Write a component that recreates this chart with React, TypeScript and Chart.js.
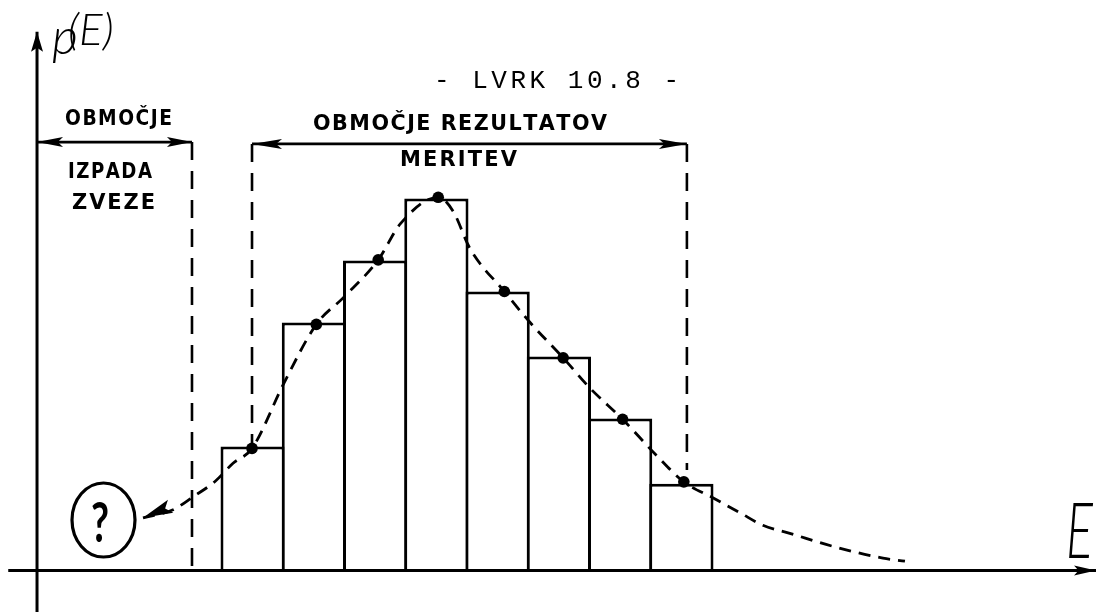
import React, { useEffect, useRef } from "react";
import { Chart, registerables } from "chart.js";

Chart.register(...registerables);

// ---- data ----
// histogram classes of measured E, unit width
const binEdges = [0, 1, 2, 3, 4, 5, 6, 7, 8];
const binCenters = [0.5, 1.5, 2.5, 3.5, 4.5, 5.5, 6.5, 7.5];
const binHeights = [2.0, 4.0, 5.0, 6.0, 4.5, 3.45, 2.45, 1.4];

// marked points on the class tops
const dotE = [0.49, 1.54, 2.55, 3.53, 4.61, 5.57, 6.54, 7.54];
const dotP = [1.97, 3.97, 5.01, 6.02, 4.5, 3.43, 2.44, 1.43];

// estimated density p(E) (dashed)
const curveE = [-1.29, -0.8, -0.47, -0.11, 0.18, 0.49, 1.01, 1.54, 1.99, 2.55, 2.91, 3.53, 3.77, 4.05, 4.61, 5.03, 5.57, 6.01, 6.54, 7.09, 7.54, 8.02, 8.46, 8.83, 9.27, 10.01, 10.79, 11.15];
const curveP = [0.85, 0.98, 1.19, 1.44, 1.73, 1.97, 3.02, 3.97, 4.41, 5.01, 5.59, 6.02, 5.8, 5.19, 4.5, 4.0, 3.43, 2.94, 2.44, 1.86, 1.43, 1.17, 0.93, 0.73, 0.6, 0.38, 0.2, 0.15];

// ranges
const outageRangeE = [-3.02, -0.49];
const outageArrowP = 6.91;
const resultRangeE = [0.49, 7.59];
const resultArrowP = 6.88;
const resultGuideBottomP = [1.97, 1.62];

// axes
const xAxisE = [-3.49, 14.27];
const yAxisE = -3.02;
const yAxisP = [-0.67, 8.69];

// labels
const titleText = "- LVRK 10.8 -";
const outageLabel = ["OBMOČJE", "IZPADA", "ZVEZE"];
const resultLabel = ["OBMOČJE REZULTATOV", "MERITEV"];

const X_MIN = -3.6245;
const X_MAX = 14.269;
const Y_MIN = -0.669;
const Y_MAX = 9.202;

function head(ctx: CanvasRenderingContext2D, tx: number, ty: number, fx: number, fy: number, len: number, half: number) {
  const dx = tx - fx;
  const dy = ty - fy;
  const d = Math.hypot(dx, dy) || 1;
  const ux = dx / d;
  const uy = dy / d;
  const bx = tx - ux * len;
  const by = ty - uy * len;
  ctx.beginPath();
  ctx.moveTo(tx, ty);
  ctx.lineTo(bx - uy * half, by + ux * half);
  ctx.lineTo(bx + ux * len * 0.2, by + uy * len * 0.2);
  ctx.lineTo(bx + uy * half, by - ux * half);
  ctx.closePath();
  ctx.fill();
}

function fitText(ctx: CanvasRenderingContext2D, text: string, left: number, baseline: number, width: number, font: string) {
  ctx.save();
  ctx.font = font;
  ctx.textAlign = "left";
  ctx.textBaseline = "alphabetic";
  const chars = Array.from(text);
  const w = chars.map((c) => ctx.measureText(c).width);
  const sum = w.reduce((a, b) => a + b, 0);
  const n = Math.max(chars.length - 1, 1);
  let gap = (width - sum) / n;
  let sx = 1;
  if (gap < 1.5) {
    gap = 1.5;
    sx = (width - gap * n) / sum;
  }
  ctx.translate(left, baseline);
  ctx.scale(sx, 1);
  let x = 0;
  chars.forEach((c, i) => {
    ctx.fillText(c, x, 0);
    x += w[i] + gap / sx;
  });
  ctx.restore();
}

function scaledText(ctx: CanvasRenderingContext2D, text: string, x: number, baseline: number, sx: number, font: string) {
  ctx.save();
  ctx.translate(x, baseline);
  ctx.scale(sx, 1);
  ctx.font = font;
  ctx.textAlign = "left";
  ctx.textBaseline = "alphabetic";
  ctx.fillText(text, 0, 0);
  ctx.restore();
}

const decorPlugin = {
  id: "decor",
  afterDatasetsDraw(chart: any) {
    const ctx: CanvasRenderingContext2D = chart.ctx;
    const xs = chart.scales.x;
    const ys = chart.scales.y;
    const px = (v: number) => xs.getPixelForValue(v);
    const py = (v: number) => ys.getPixelForValue(v);
    ctx.save();
    ctx.fillStyle = "#000";
    ctx.strokeStyle = "#000";

    // axis arrow heads
    head(ctx, px(xAxisE[1]), py(0), px(xAxisE[0]), py(0), 22, 5);
    head(ctx, px(yAxisE), py(yAxisP[1]), px(yAxisE), py(yAxisP[0]), 20, 6);

    // range arrows
    head(ctx, px(outageRangeE[0]), py(outageArrowP), px(outageRangeE[1]), py(outageArrowP), 26, 5);
    head(ctx, px(outageRangeE[1]), py(outageArrowP), px(outageRangeE[0]), py(outageArrowP), 25, 5);
    head(ctx, px(resultRangeE[0]), py(resultArrowP), px(resultRangeE[1]), py(resultArrowP), 30, 5);
    head(ctx, px(resultRangeE[1]), py(resultArrowP), px(resultRangeE[0]), py(resultArrowP), 28, 5);

    // curve start arrow (towards the unknown)
    head(ctx, px(curveE[0]), py(curveP[0]), px(curveE[2]), py(curveP[2]), 30, 7);

    // question mark in circle
    ctx.lineWidth = 3.2;
    ctx.beginPath();
    ctx.ellipse(103.5, 520, 31.5, 37, 0, 0, Math.PI * 2);
    ctx.stroke();
    scaledText(ctx, "?", 91, 542, 0.7, 'bold 56px Lato');

    // texts
    fitText(ctx, titleText, 434, 88, 245, '26px "Liberation Mono"');
    const hand = 'bold 21px "DejaVu Sans"';
    fitText(ctx, outageLabel[0], 65, 125, 107, hand);
    fitText(ctx, outageLabel[1], 68, 178, 84, hand);
    fitText(ctx, outageLabel[2], 72, 209, 83, hand);
    fitText(ctx, resultLabel[0], 313, 130, 294, hand);
    fitText(ctx, resultLabel[1], 400, 166, 117, hand);

    // axis titles
    ctx.font = 'italic 300 50px Lato';
    ctx.textAlign = "left";
    ctx.textBaseline = "alphabetic";
    ctx.fillText("p", 52, 54);
    ctx.font = 'italic 300 44px Lato';
    ctx.fillText("(E)", 68, 45);
    scaledText(ctx, "E", 1066, 558, 0.66, 'italic 300 76px Lato');

    ctx.restore();
  },
};

export default function App() {
  const ref = useRef<HTMLCanvasElement | null>(null);

  useEffect(() => {
    if (!ref.current) return;
    document.body.style.margin = "0";
    const lineDs = (data: { x: number; y: number }[], extra: any) => ({
      type: "line",
      data,
      borderColor: "#000",
      borderWidth: 3,
      pointRadius: 0,
      fill: false,
      tension: 0,
      ...extra,
    });
    const chart = new Chart(ref.current, {
      type: "line",
      data: {
        datasets: [
          {
            type: "bar",
            data: binCenters.map((x, i) => ({ x, y: binHeights[i] })),
            backgroundColor: "#fff",
            borderColor: "#000",
            borderWidth: 3,
            borderSkipped: "start",
            barPercentage: 1.049,
            categoryPercentage: 1,
            order: 10,
          } as any,
          lineDs(
            [
              { x: outageRangeE[1], y: outageArrowP },
              { x: outageRangeE[1], y: 0 },
            ],
            { borderDash: [18, 11], borderWidth: 2.6, order: 5 }
          ),
          lineDs(
            [
              { x: resultRangeE[0], y: resultArrowP },
              { x: resultRangeE[0], y: resultGuideBottomP[0] },
            ],
            { borderDash: [18, 11], borderWidth: 2.6, order: 5 }
          ),
          lineDs(
            [
              { x: resultRangeE[1], y: resultArrowP },
              { x: resultRangeE[1], y: resultGuideBottomP[1] },
            ],
            { borderDash: [18, 11], borderWidth: 2.6, order: 5 }
          ),
          lineDs(
            curveE.map((x, i) => ({ x, y: curveP[i] })),
            { borderDash: [12, 8], borderWidth: 2.8, cubicInterpolationMode: "monotone", order: 4 }
          ),
          lineDs(
            [
              { x: outageRangeE[0], y: outageArrowP },
              { x: outageRangeE[1], y: outageArrowP },
            ],
            { borderWidth: 2.8, order: 3 }
          ),
          lineDs(
            [
              { x: resultRangeE[0], y: resultArrowP },
              { x: resultRangeE[1], y: resultArrowP },
            ],
            { borderWidth: 2.8, order: 3 }
          ),
          lineDs(
            [
              { x: xAxisE[0], y: 0 },
              { x: xAxisE[1], y: 0 },
            ],
            { borderWidth: 3, order: 2 }
          ),
          lineDs(
            [
              { x: yAxisE, y: yAxisP[0] },
              { x: yAxisE, y: yAxisP[1] },
            ],
            { borderWidth: 3, order: 2 }
          ),
          {
            type: "line",
            data: dotE.map((x, i) => ({ x, y: dotP[i] })),
            showLine: false,
            pointRadius: 5.8,
            pointBackgroundColor: "#000",
            pointBorderWidth: 0,
            order: 1,
          } as any,
        ] as any,
      },
      options: {
        animation: false,
        responsive: false,
        events: [],
        layout: { padding: 0, autoPadding: false },
        clip: false,
        plugins: { legend: { display: false }, tooltip: { enabled: false } },
        scales: {
          x: {
            type: "linear",
            min: X_MIN,
            max: X_MAX,
            display: false,
            offset: false,
            afterBuildTicks: (scale: any) => {
              scale.ticks = binEdges.map((v) => ({ value: v }));
            },
          },
          y: {
            type: "linear",
            min: Y_MIN,
            max: Y_MAX,
            display: false,
          },
        },
      } as any,
      plugins: [decorPlugin],
    });
    return () => chart.destroy();
  }, []);

  return (
    <div style={{ position: "fixed", left: 0, top: 0, width: 1096, height: 612, background: "#fff" }}>
      <canvas ref={ref} width={1096} height={612} style={{ display: "block" }} />
    </div>
  );
}
